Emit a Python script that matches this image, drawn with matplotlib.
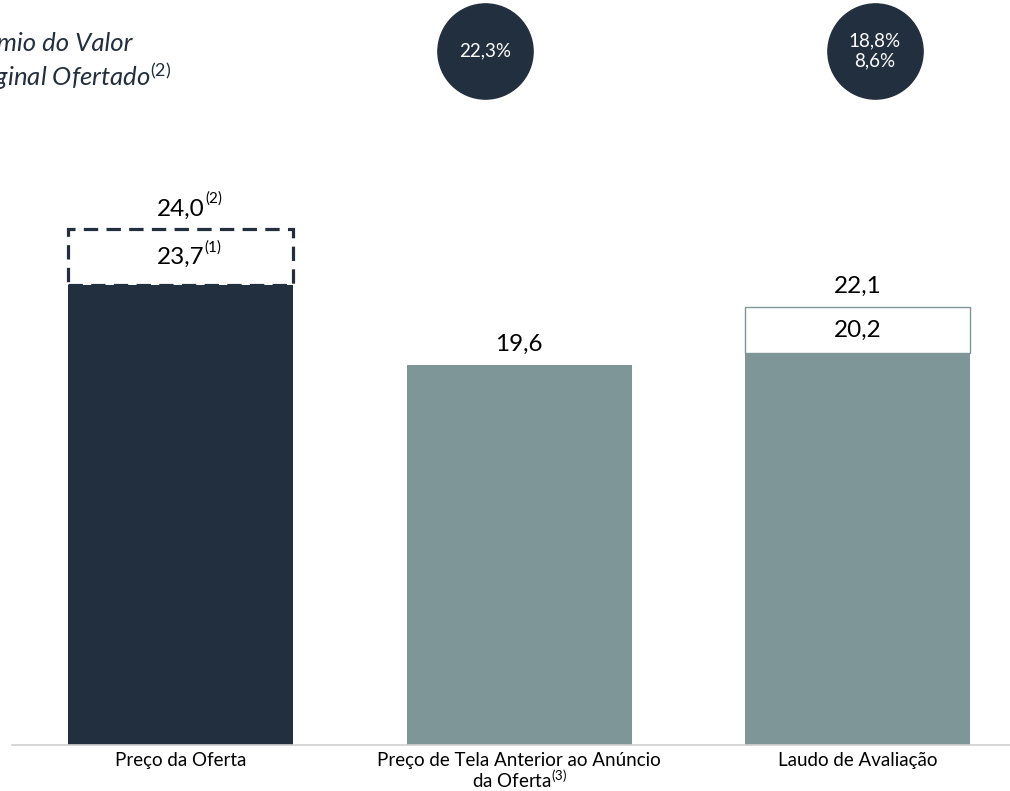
import matplotlib.pyplot as plt
from matplotlib.patches import Rectangle

plt.rcParams['font.family'] = ['Lato', 'DejaVu Sans']
plt.rcParams['mathtext.fontset'] = 'custom'
plt.rcParams['mathtext.rm'] = 'Lato'
plt.rcParams['mathtext.it'] = 'Lato:italic'
plt.rcParams['mathtext.bf'] = 'Lato:bold'

# ==============================
# Data
# ==============================
categories = ['Preço da Oferta',
              'Preço de Tela Anterior ao Anúncio\nda Oferta$^{(3)}$',
              'Laudo de Avaliação']
bar_values = [23.7, 19.6, 20.2]
bar_labels = ['23,7', '19,6', '20,2']
bar_notes = ['(1)', '', '']
upper_values = [24.0, None, 22.1]
upper_labels = ['24,0', None, '22,1']
upper_notes = ['(2)', '', '']
premium_labels = ['22,3%', '18,8%\n8,6%']

# ==============================
# Style
# ==============================
navy = '#222f3e'
teal = '#7e9698'
bar_colors = [navy, teal, teal]
bar_width = 0.665
box_heights = [2.9, None, 2.4]     # drawn height of the range boxes
premium_x = [0.9, 2.05]            # circle positions (between bars)
premium_y = 35.8

fig = plt.figure(figsize=(10.1, 7.91), dpi=100)
ax = fig.add_axes([12 / 1010, 46 / 791, 998 / 1010, 745 / 791])
ax.set_xlim(-0.498, 2.45)
ax.set_ylim(0, 38.42)


def value_label(xc, y, text, note, va):
    t = ax.text(xc, y, text, ha='center', va=va, fontsize=17.5, color='black')
    if note:
        ax.annotate(note, xy=(1.0, 0.98), xycoords=t, ha='left', va='center',
                    fontsize=11, color='black', xytext=(0.3, 0),
                    textcoords='offset points')
    return t


x = list(range(len(categories)))
ax.bar(x, bar_values, width=bar_width, color=bar_colors, zorder=2)

for i, v in enumerate(bar_values):
    if upper_values[i] is None:
        value_label(i, v + 0.5, bar_labels[i], bar_notes[i], 'bottom')
        continue
    h = box_heights[i]
    if i == 0:
        box = Rectangle((i - bar_width / 2, v), bar_width, h, fill=False,
                        ec=navy, lw=2.3, ls=(0, (4.5, 2.6)), zorder=3)
    else:
        box = Rectangle((i - bar_width / 2, v), bar_width, h, fill=False,
                        ec=teal, lw=1.0, zorder=3)
    ax.add_patch(box)
    value_label(i, v + h / 2, bar_labels[i], bar_notes[i], 'center')
    value_label(i, v + h + 0.5, upper_labels[i], upper_notes[i], 'bottom')

# premium circles
ax.scatter(premium_x, [premium_y] * len(premium_x), s=4700, color=navy,
           clip_on=False, zorder=4)
for px, lab in zip(premium_x, premium_labels):
    ax.text(px, premium_y, lab, ha='center', va='center', fontsize=13.5,
            color='white', linespacing=1.25, zorder=5)

fig.text(-39 / 1010, 1 - 62 / 791,
         'Prêmio do Valor\nOriginal Ofertado$^{\\mathit{(2)}}$',
         ha='left', va='center', fontsize=18.5, style='italic', color=navy,
         linespacing=1.15)

ax.set_xticks(x)
ax.set_xticklabels(categories, fontsize=13.5, linespacing=1.0)
ax.tick_params(axis='x', length=0, pad=5)
ax.set_yticks([])
for s in ['top', 'right', 'left']:
    ax.spines[s].set_visible(False)
ax.spines['bottom'].set_color('#d0d0d0')
ax.spines['bottom'].set_linewidth(1.2)

fig.savefig('out.png', dpi=100)
